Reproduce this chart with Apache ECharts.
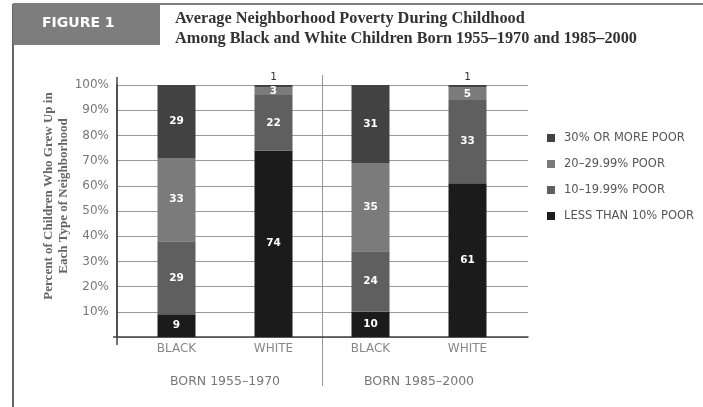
<!DOCTYPE html>
<html>
<head>
<meta charset="utf-8">
<script src="https://cdn.jsdelivr.net/npm/echarts@6/dist/echarts.min.js"></script>
<style>
html,body{margin:0;padding:0;background:#fff;}
#c{width:703px;height:407px;}
</style>
</head>
<body>
<div id="c"></div>
<script>
// ---- data ----
var categories = ['BLACK', 'WHITE', 'BLACK', 'WHITE'];
var groups = ['BORN 1955\u20131970', 'BORN 1985\u20132000'];
var yTicks = [10, 20, 30, 40, 50, 60, 70, 80, 90, 100];
var lessThan10 = [9, 74, 10, 61];
var tenTo20 = [29, 22, 24, 33];
var twentyTo30 = [33, 3, 35, 5];
var thirtyPlus = [29, 1, 31, 1];
var seriesNames = ['30% OR MORE POOR', '20\u201329.99% POOR', '10\u201319.99% POOR', 'LESS THAN 10% POOR'];

var colors = {
  thirty: '#424242',
  twenty: '#7b7b7b',
  ten: '#5f5f5f',
  less: '#1b1b1b'
};
var wide = '"DejaVu Sans", Verdana, sans-serif';
var serif = '"Liberation Serif", "DejaVu Serif", serif';

function withLabels(arr) {
  return arr.map(function (v) {
    if (v < 3) {
      return { value: v, label: { position: 'top', color: '#333', fontWeight: 'normal', distance: 2 } };
    }
    return v;
  });
}

var labelStyle = {
  show: true,
  position: 'inside',
  color: '#fff',
  fontFamily: wide,
  fontWeight: 'bold',
  fontSize: 10.5
};

var chart = echarts.init(document.getElementById('c'), null, { renderer: 'canvas' });

var option = {
  animation: false,
  backgroundColor: '#fff',
  title: {
    text: 'Average Neighborhood Poverty During Childhood\nAmong Black and White Children Born 1955\u20131970 and 1985\u20132000',
    left: 170,
    top: 4,
    textStyle: {
      fontFamily: serif,
      fontSize: 16.3,
      fontWeight: 'bold',
      lineHeight: 20,
      color: '#333'
    }
  },
  legend: {
    orient: 'vertical',
    left: 542,
    top: 127,
    itemWidth: 8,
    itemHeight: 8,
    itemGap: 14,
    icon: 'rect',
    data: seriesNames,
    textStyle: { fontFamily: wide, fontSize: 11.5, color: '#555', padding: [0, 0, 0, 4] }
  },
  grid: [
    { left: 117, right: 175, top: 85, bottom: 70 },
    { left: 128, right: 187, top: 85, bottom: 70 }
  ],
  xAxis: [
    {
      gridIndex: 0, type: 'category', data: [''],
      axisLine: { show: true, lineStyle: { color: '#444', width: 1.5 } },
      axisTick: { show: false }, axisLabel: { show: false }, splitLine: { show: false }
    },
    {
      gridIndex: 1, type: 'category', data: categories,
      axisLine: { show: false }, axisTick: { show: false },
      axisLabel: { color: '#888', fontFamily: wide, fontSize: 12, margin: 6 }
    },
    {
      gridIndex: 1, type: 'category', data: groups, position: 'bottom', offset: 33,
      axisLine: { show: false }, axisTick: { show: false },
      axisLabel: { color: '#777', fontFamily: wide, fontSize: 12.5, margin: 5 }
    }
  ],
  yAxis: [
    {
      gridIndex: 0, type: 'value', min: 0, max: 100, interval: 10,
      name: 'Percent of Children Who Grew Up in\nEach Type of Neighborhood',
      nameLocation: 'middle', nameRotate: 90, nameGap: 46, nameMoveOverlap: false,
      nameTextStyle: { fontFamily: serif, fontSize: 13, fontWeight: 'bold', color: '#666', lineHeight: 15, padding: [0, 0, 0, 30] },
      axisLine: { show: true, lineStyle: { color: '#444', width: 1.5 } },
      axisTick: { show: false },
      axisLabel: {
        color: '#777', fontFamily: wide, fontSize: 12, margin: 8,
        formatter: function (v) { return yTicks.indexOf(v) >= 0 ? v + '%' : ''; }
      },
      splitLine: { show: true, lineStyle: { color: '#9a9a9a', width: 1 } }
    },
    {
      gridIndex: 1, type: 'value', min: 0, max: 100, show: false, splitLine: { show: false }
    }
  ],
  series: [
    {
      name: seriesNames[3], type: 'bar', stack: 's', xAxisIndex: 1, yAxisIndex: 1,
      barWidth: 38, itemStyle: { color: colors.less }, label: labelStyle, data: withLabels(lessThan10)
    },
    {
      name: seriesNames[2], type: 'bar', stack: 's', xAxisIndex: 1, yAxisIndex: 1,
      barWidth: 38, itemStyle: { color: colors.ten }, label: labelStyle, data: withLabels(tenTo20)
    },
    {
      name: seriesNames[1], type: 'bar', stack: 's', xAxisIndex: 1, yAxisIndex: 1,
      barWidth: 38, itemStyle: { color: colors.twenty }, label: labelStyle, data: withLabels(twentyTo30)
    },
    {
      name: seriesNames[0], type: 'bar', stack: 's', xAxisIndex: 1, yAxisIndex: 1,
      barWidth: 38, itemStyle: { color: colors.thirty }, label: labelStyle, data: withLabels(thirtyPlus)
    }
  ]
};
chart.setOption(option);

// frame, header, axis extensions and group divider
var p1 = chart.convertToPixel({ xAxisIndex: 1 }, 1);
var p2 = chart.convertToPixel({ xAxisIndex: 1 }, 2);
var divX = Math.round((p1 + p2) / 2) + 0.5;
var yTop = chart.convertToPixel({ yAxisIndex: 0 }, 100);
var yBase = chart.convertToPixel({ yAxisIndex: 0 }, 0);
var axX = 117;
chart.setOption({
  graphic: [
    { type: 'line', shape: { x1: 13, y1: 4, x2: 703, y2: 4 }, style: { stroke: '#555', lineWidth: 1.5 }, silent: true },
    { type: 'line', shape: { x1: 13, y1: 4, x2: 13, y2: 407 }, style: { stroke: '#333', lineWidth: 1.5 }, silent: true },
    { type: 'rect', shape: { x: 13, y: 4, width: 147, height: 41 }, style: { fill: '#7d7d7d' }, silent: true },
    { type: 'text', left: 42, top: 16, style: { text: 'FIGURE 1', fill: '#fff', font: 'bold 14px "DejaVu Sans", Verdana, sans-serif' }, silent: true },
    { type: 'line', shape: { x1: axX, y1: yTop - 8, x2: axX, y2: yBase + 8 }, style: { stroke: '#444', lineWidth: 1.5 }, silent: true },
    { type: 'line', shape: { x1: axX - 4, y1: yBase, x2: axX, y2: yBase }, style: { stroke: '#444', lineWidth: 1.5 }, silent: true },
    { type: 'line', shape: { x1: divX, y1: 75, x2: divX, y2: 386 }, style: { stroke: '#999', lineWidth: 1 }, silent: true }
  ]
});
</script>
</body>
</html>
